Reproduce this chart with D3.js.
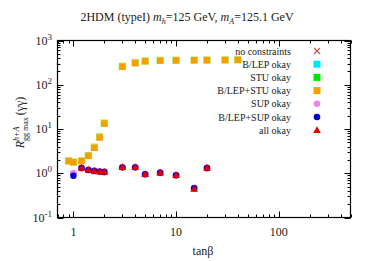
<!DOCTYPE html>
<html><head><meta charset="utf-8">
<script src="https://cdn.jsdelivr.net/npm/d3@7"></script>
<style>body{margin:0;background:#fff}svg{display:block}</style>
</head><body><svg id="c" width="374" height="261" font-family="'Liberation Serif', 'Times New Roman', Times, serif"></svg>
<script>
const tanbQuad = [0.9,1,1.2,1.4,1.6,1.8,2,3,4,5,7,10,15,20,30,40];
const stuOkay = [1.9,1.8,1.9,2.5,3.9,6.7,13.6,260,315,345,355,358,360,362,364,366];
const bLepStuOkay = [1.89,1.77,1.89,2.49,3.76,6.45,13.3,257,310,340,351,355,358,360,362,365];
const tanbLow = [1,1.2,1.4,1.6,1.8,2,3,4,5,7,10,15,20];
const supOkay = [1.0,1.31,1.19,1.13,1.09,1.07,1.36,1.36,0.95,1.03,0.9,0.46,1.31];
const bLepSupOkay = [0.88,1.31,1.19,1.13,1.09,1.07,1.36,1.36,0.95,1.03,0.9,0.46,1.31];
const tanbAll = [1.2,1.4,1.6,1.8,2,3,4,5,7,10,15,20];
const allOkay = [1.31,1.19,1.13,1.09,1.07,1.36,1.36,0.95,1.03,0.9,0.44,1.31];
const legendLabels = ["no constraints","B/LEP okay","STU okay","B/LEP+STU okay","SUP okay","B/LEP+SUP okay","all okay"];
const legendColors = ["#c0504d","#00e5ff","#00e600","#f5a000","#ee82ee","#0000d8","#e00000"];
const xTickLabels = ["1","10","100"];
const yTickExps = ["-1","0","1","2","3"];

const svg = d3.select("#c");
const L=57.5, R=350.5, T=40.5, B=217.5;
const x = d3.scaleLog().domain([0.7,500]).range([L,R]);
const y = d3.scaleLog().domain([0.1,1000]).range([B,T]);

const xMinor=[], yMinor=[];
[0.1,1,10,100].forEach(d=>{for(let k=2;k<=9;k++){const v=d*k; if(v>=0.7&&v<=500) xMinor.push(v);}});
[0.1,1,10,100].forEach(d=>{for(let k=2;k<=9;k++) yMinor.push(d*k);});
const xMajor=[1,10,100], yMajor=[0.1,1,10,100,1000];
const g=svg.append("g").attr("stroke","#000").attr("stroke-width",1);
xMajor.forEach(v=>{const p=Math.round(x(v))+0.5;g.append("line").attr("x1",p).attr("x2",p).attr("y1",B).attr("y2",B-6);g.append("line").attr("x1",p).attr("x2",p).attr("y1",T).attr("y2",T+6);});
xMinor.forEach(v=>{const p=Math.round(x(v))+0.5;g.append("line").attr("x1",p).attr("x2",p).attr("y1",B).attr("y2",B-3);g.append("line").attr("x1",p).attr("x2",p).attr("y1",T).attr("y2",T+3);});
yMajor.forEach(v=>{const p=Math.round(y(v))+0.5;g.append("line").attr("y1",p).attr("y2",p).attr("x1",L).attr("x2",L+6);g.append("line").attr("y1",p).attr("y2",p).attr("x1",R).attr("x2",R-6);});
yMinor.forEach(v=>{const p=Math.round(y(v))+0.5;g.append("line").attr("y1",p).attr("y2",p).attr("x1",L).attr("x2",L+3);g.append("line").attr("y1",p).attr("y2",p).attr("x1",R).attr("x2",R-3);});
svg.append("rect").attr("x",L).attr("y",T).attr("width",R-L).attr("height",B-T).attr("fill","none").attr("stroke","#000").attr("stroke-width",1.2);

const ink="#222";
xMajor.forEach((v,i)=>svg.append("text").attr("fill",ink).attr("x",x(v)).attr("y",236).attr("text-anchor","middle").attr("font-size",12).text(xTickLabels[i]));
yMajor.forEach((v,i)=>{const t=svg.append("text").attr("fill",ink).attr("x",52).attr("y",y(v)+4).attr("text-anchor","end").attr("font-size",12);
 t.append("tspan").text("10"); t.append("tspan").attr("dy",-5).attr("font-size",9).text(yTickExps[i]);});

svg.append("text").attr("fill",ink).attr("x",203).attr("y",255).attr("text-anchor","middle").attr("font-size",12).text("tanβ");

const yg=svg.append("g").attr("transform","translate(24,122) rotate(-90)");
const yt=yg.append("text").attr("fill",ink).attr("font-size",12).attr("x",0).attr("y",0);
yt.append("tspan").attr("font-style","italic").text("R");
const sup=yt.append("tspan").attr("dy",-5).attr("font-size",8).attr("font-style","italic").text("h+A");
const supW=sup.node().getComputedTextLength();
yt.append("tspan").attr("dx",-supW).attr("dy",9).attr("font-size",8).text("gg max");
yt.append("tspan").attr("dy",-4).attr("dx",2).text("(γγ)");
const bb=yt.node().getBBox();
yt.attr("x",-bb.width/2);

const tt=svg.append("text").attr("fill",ink).attr("x",187).attr("y",21).attr("text-anchor","middle").attr("font-size",12);
tt.append("tspan").text("2HDM (typeI) ");
tt.append("tspan").attr("font-style","italic").text("m");
tt.append("tspan").attr("font-style","italic").attr("font-size",8).attr("dy",3).text("h");
tt.append("tspan").attr("dy",-3).text("=125 GeV, ");
tt.append("tspan").attr("font-style","italic").text("m");
tt.append("tspan").attr("font-style","italic").attr("font-size",8).attr("dy",3).text("A");
tt.append("tspan").attr("dy",-3).text("=125.1 GeV");

const sq = (data, xs, size, color)=>svg.append("g").selectAll("rect").data(data).join("rect")
 .attr("x",(d,i)=>x(xs[i])-size/2).attr("y",d=>y(d)-size/2).attr("width",size).attr("height",size).attr("fill",color);
const circ = (data, xs, r, color)=>svg.append("g").selectAll("circle").data(data).join("circle")
 .attr("cx",(d,i)=>x(xs[i])).attr("cy",d=>y(d)).attr("r",r).attr("fill",color);
sq(stuOkay,tanbQuad,7.5,"#b8f07a");
sq(bLepStuOkay,tanbQuad,6.5,legendColors[3]);
circ(supOkay,tanbLow,3.6,legendColors[4]);
circ(bLepSupOkay,tanbLow,3.2,legendColors[5]);
const tri=d3.symbol().type(d3.symbolTriangle).size(26);
svg.append("g").selectAll("path").data(allOkay).join("path").attr("d",tri)
 .attr("transform",(d,i)=>`translate(${x(tanbAll[i])},${y(d)+0.5})`).attr("fill",legendColors[6]);

legendLabels.forEach((lab,i)=>{
 const yy=51+i*13.2;
 svg.append("text").attr("fill",ink).attr("x",291).attr("y",yy+3.5).attr("text-anchor","end").attr("font-size",10).text(lab);
 const sx=317;
 if(i===0){svg.append("path").attr("d",`M${sx-3},${yy-3}L${sx+3},${yy+3}M${sx-3},${yy+3}L${sx+3},${yy-3}`).attr("stroke",legendColors[0]).attr("stroke-width",1.2);}
 else if(i<=3){svg.append("rect").attr("x",sx-3.5).attr("y",yy-3.5).attr("width",7).attr("height",7).attr("fill",legendColors[i]);}
 else if(i<=5){svg.append("circle").attr("cx",sx).attr("cy",yy).attr("r",3.3).attr("fill",legendColors[i]);}
 else {svg.append("path").attr("d",tri).attr("transform",`translate(${sx},${yy+0.5})`).attr("fill",legendColors[6]);}
});
</script></body></html>
